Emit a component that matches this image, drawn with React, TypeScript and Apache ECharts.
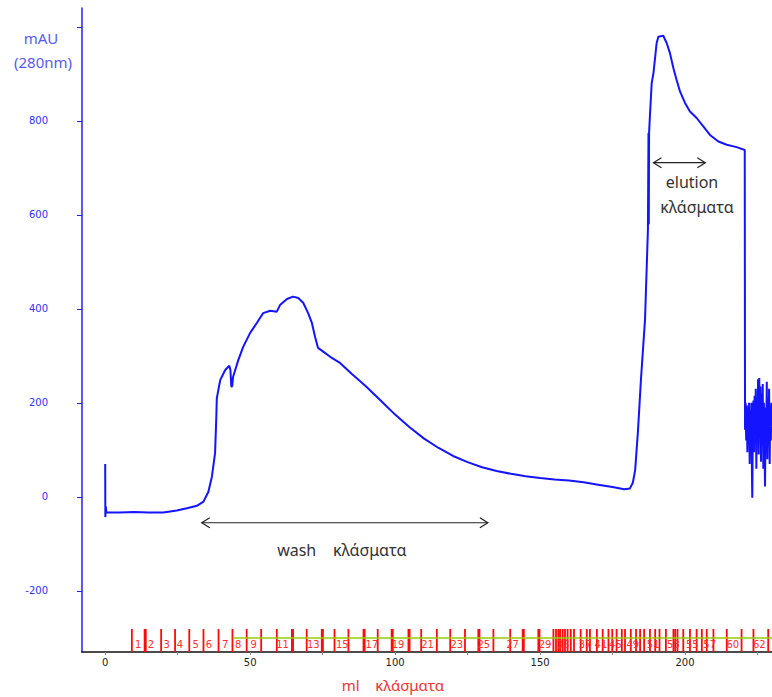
import React, { useEffect, useRef } from "react";
import * as echarts from "echarts";

// Chromatogram: [ml, mAU]
const curveMl = [
  0, 0.05, 0.2, 0.4, 1, 5, 10, 15, 20, 24.7, 28.2, 31.6, 33.9, 35.6, 36.8, 37.9, 38.3, 38.5, 39.7, 41.4,
  42.8, 43.2, 43.5, 43.8, 44.1, 45.9, 47.6, 50, 52.3, 54.5, 56.9, 59.2, 60.3, 62.7, 64.8, 66.6, 68.3, 70,
  71.3, 72.4, 73.4, 75.2, 77.6, 81, 85, 90, 95, 100, 105, 110, 115, 120, 125, 130, 135, 140, 145, 150,
  155, 160, 165, 170, 175, 179, 181, 182, 182.8, 183.8, 184.8, 186.2, 187.2, 187.4, 187.5, 187.6, 187.8,
  188.5, 189.1, 190.2, 190.8, 192.5, 193.7, 194.8, 196, 197.1, 198.3, 200, 201.7, 204, 206.3, 208.6,
  211.5, 214.4, 217.8, 220.6, 220.7, 220.9, 221.1, 221.3, 221.5, 221.7, 221.9, 222.1, 222.3, 222.5,
  222.7, 222.9, 223.1, 223.2, 223.4, 223.6, 223.8, 224.0, 224.2, 224.4, 224.6, 224.8, 225.0, 225.2,
  225.4, 225.6, 225.8, 226.0, 226.2, 226.4, 226.6, 226.8, 227.0, 227.2, 227.4, 227.6, 227.8, 228.0,
  228.2, 228.4, 228.6, 228.8, 229.0, 229.2, 229.4, 229.6, 229.8, 230,
];
const curveMAU = [
  70, -43, -20, -33, -33, -33, -32, -33, -33, -29, -24, -19, -10, 11, 43, 93, 164, 210, 249, 270,
  279, 270, 235, 235, 255, 291, 319, 349, 370, 391, 396, 394, 408, 421, 426, 423, 413, 391,
  370, 340, 317, 309, 298, 285, 262, 235, 205, 175, 148, 124, 104, 87, 74, 63, 55, 49, 44, 40,
  37, 35, 31, 26, 21, 16, 18, 30, 57, 143, 250, 377, 568, 774, 580, 774, 800,
  880, 901, 965, 979, 981, 965, 944, 912, 887, 862, 838, 820, 806, 788, 770,
  756, 749, 744, 738, 143, 200, 120, 195, 95, 190, 130, 200, 70, 185,
  110, 200, 40, -2, 160, 205, 95, 215, 120, 230, 60, 210, 140, 250,
  90, 253, 150, 235, 75, 220, 130, 240, 60, 200, 110, 22, 190, 120,
  245, 80, 210, 140, 230, 70, 195, 120, 200, 150,
];

// Fraction collector marks (ml)
const fractionMarks = [
  9.2, 13.6, 14.0, 19.3, 24.1, 29, 33.9, 39.1, 43.9, 48.8, 53.8, 59.2, 64.4, 64.8, 69.5, 74.7, 75.1,
  79.1, 83.9, 89.1, 89.5, 94, 98.8, 99.2, 104.6, 105.0, 109, 114.4, 119, 124.1, 128.7, 129.1, 133.9,
  139.7, 144, 144.4, 149.4, 149.8, 154.6, 155.5, 156.3, 156.9, 157.8, 158.6, 159.5, 160.6, 161.7, 164,
  166.1, 167.2, 169.6, 171.6, 173.6, 174.9, 176.4, 178.2, 179.3, 181.3, 183.1, 184.5, 185.9, 187.9,
  189.7, 191.2, 193.4, 196, 196.6, 197.4, 199.4, 201.7, 204, 205.8, 207.5, 209.8, 214.4, 219.5, 223.6,
  228.7,
];
const fractionLabelMl = [
  11.4, 15.8, 21.2, 25.8, 31.2, 35.8, 41.4, 45.9, 51.2, 61.2, 71.8, 81.8, 92, 101, 111.2, 121.3,
  130.6, 140.5, 151.7, 158, 165.5, 171, 176, 182, 189, 196, 202.5, 208.5, 216.5, 225.6,
];
const fractionLabels = [
  "1", "2", "3", "4", "5", "6", "7", "8", "9", "11", "13", "15", "17", "19", "21", "23",
  "25", "27", "29", "33", "37", "41", "45", "49", "51", "53", "55", "57", "60", "62",
];

// Collection line (green)
const collectLineMl = [44, 230];
const collectLineValue = -300;

const xTicks = [0, 25, 50, 75, 100, 125, 150, 175, 200, 225];
const xTickLabels = [0, 50, 100, 150, 200];
const yTicks = [-200, 0, 200, 400, 600, 800, 1000];
const yTickLabels = [-200, 0, 200, 400, 600, 800];

const X_MIN = -8;
const X_MAX = 230;
const Y_MIN = -330;
const Y_MAX = 1040;
const MARK_TOP = -281;
const LABEL_Y = -313;

// Annotations (data coordinates)
const washArrow = { from: 33.3, to: 132, value: -55 };
const elutionArrow = { from: 189.1, to: 207, value: 711 };

export default function App() {
  const ref = useRef<HTMLDivElement>(null);

  useEffect(() => {
    if (!ref.current) return;
    const chart = echarts.init(ref.current, null, { renderer: "svg" });
    const curve = curveMl.map((m, i) => [m, curveMAU[i]]);

    chart.setOption({
      animation: false,
      backgroundColor: "#ffffff",
      grid: { left: 82, right: 0, top: 8, bottom: 45, containLabel: false },
      xAxis: {
        type: "value",
        min: X_MIN,
        max: X_MAX,
        axisLine: { show: true, onZero: false, lineStyle: { color: "#111", width: 1.5 } },
        splitLine: { show: false },
        axisTick: { show: true, customValues: xTicks, length: 3, lineStyle: { color: "#888" } },
        axisLabel: {
          customValues: xTickLabels,
          color: "#222",
          fontSize: 10,
          margin: 5,
          fontFamily: "DejaVu Sans",
        },
      },
      yAxis: {
        type: "value",
        min: Y_MIN,
        max: Y_MAX,
        axisLine: { show: true, onZero: false, lineStyle: { color: "#2020ff", width: 1.5 } },
        splitLine: { show: false },
        axisTick: { show: true, customValues: yTicks, length: 5, lineStyle: { color: "#2020ff" } },
        axisLabel: {
          customValues: yTickLabels,
          color: "#3030ff",
          fontSize: 10,
          margin: 34,
          fontFamily: "DejaVu Sans",
        },
      },
      series: [
        {
          type: "custom",
          z: 2,
          data: fractionMarks.map((m) => [m]),
          renderItem: (params: any, api: any) => {
            const m = api.value(0);
            const p0 = api.coord([m, Y_MIN]);
            const p1 = api.coord([m, MARK_TOP]);
            return {
              type: "line",
              shape: { x1: p0[0], y1: p0[1], x2: p1[0], y2: p1[1] },
              style: { stroke: "#ff0a0a", lineWidth: 1.8 },
            };
          },
        },
        {
          type: "custom",
          z: 3,
          data: fractionLabelMl.map((m, i) => [m, i]),
          renderItem: (params: any, api: any) => {
            const m = api.value(0);
            const idx = api.value(1);
            const p = api.coord([m, LABEL_Y]);
            return {
              type: "text",
              x: p[0],
              y: p[1],
              style: {
                text: fractionLabels[idx],
                fill: "#ff3030",
                font: "10px DejaVu Sans",
                align: "center",
                verticalAlign: "middle",
              },
            };
          },
        },
        {
          type: "line",
          z: 4,
          data: collectLineMl.map((m) => [m, collectLineValue]),
          showSymbol: false,
          lineStyle: { color: "#99cc00", width: 1.5 },
        },
        {
          type: "line",
          z: 5,
          data: curve,
          showSymbol: false,
          lineStyle: { color: "#1414ff", width: 2 },
        },
      ],
    });

    const px = (x: number, y: number) =>
      chart.convertToPixel({ xAxisIndex: 0, yAxisIndex: 0 }, [x, y]) as number[];

    const arrow = (a: { from: number; to: number; value: number }) => {
      const p1 = px(a.from, a.value);
      const p2 = px(a.to, a.value);
      const y = p1[1];
      const st = { stroke: "#222", lineWidth: 1.2, fill: null };
      return [
        { type: "line", shape: { x1: p1[0], y1: y, x2: p2[0], y2: y }, style: st },
        {
          type: "polyline",
          shape: { points: [[p1[0] + 8, y - 5], [p1[0], y], [p1[0] + 8, y + 5]] },
          style: st,
        },
        {
          type: "polyline",
          shape: { points: [[p2[0] - 8, y - 5], [p2[0], y], [p2[0] - 8, y + 5]] },
          style: st,
        },
      ];
    };

    const washText = px(81.6, -113);
    const eluText1 = px(202.4, 670);
    const eluText2 = px(204.1, 617);

    const textEl = (x: number, y: number, text: string, fill: string, font: string) => ({
      type: "text",
      x,
      y,
      style: { text, fill, font, align: "center", verticalAlign: "middle" },
    });

    const annFont = "16px 'Noto Sans'";
    chart.setOption({
      graphic: [
        ...arrow(washArrow),
        ...arrow(elutionArrow),
        textEl(washText[0], washText[1], "wash    κλάσματα", "#333", annFont),
        textEl(eluText1[0], eluText1[1], "elution", "#333", annFont),
        textEl(eluText2[0], eluText2[1], "κλάσματα", "#333", annFont),
        textEl(41, 38, "mAU", "#5a5aee", "15px 'Noto Sans'"),
        textEl(43, 62, "(280nm)", "#5a5aee", "15px 'Noto Sans'"),
        textEl(393, 685, "ml    κλάσματα", "#ee3333", "15px 'Noto Sans'"),
      ],
    });

    return () => chart.dispose();
  }, []);

  return (
    <div
      ref={ref}
      style={{ position: "fixed", left: 0, top: 0, width: 772, height: 697, background: "#fff" }}
    />
  );
}
